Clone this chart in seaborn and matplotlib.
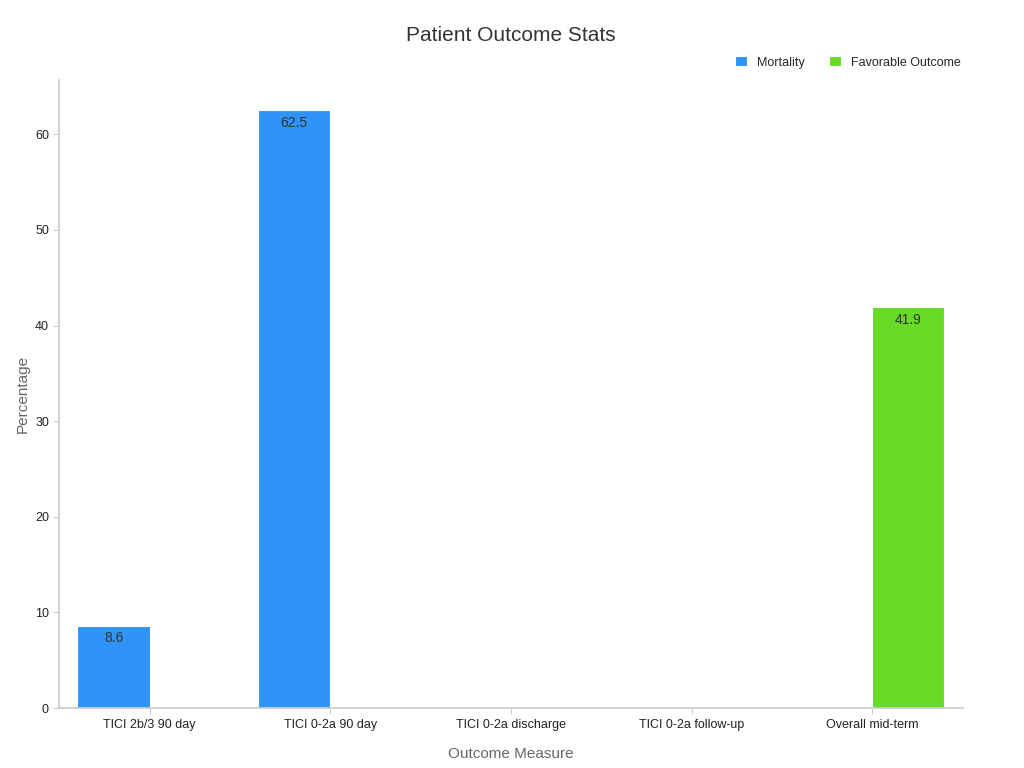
import pandas as pd
import seaborn as sns
import matplotlib.pyplot as plt

categories = ['TICI 2b/3 90 day', 'TICI 0-2a 90 day', 'TICI 0-2a discharge',
              'TICI 0-2a follow-up', 'Overall mid-term']
mortality = [8.6, 62.5, None, None, None]
favorable = [None, None, None, None, 41.9]

df = pd.DataFrame({
    'Outcome Measure': categories * 2,
    'Percentage': mortality + favorable,
    'Series': ['Mortality'] * 5 + ['Favorable Outcome'] * 5,
})

plt.style.use('seaborn-v0_8-white')
fig, ax = plt.subplots(figsize=(10.24, 7.68), dpi=100)
sns.barplot(data=df, x='Outcome Measure', y='Percentage', hue='Series',
            palette=['#2f93f8', '#66da26'], width=0.8, saturation=1,
            edgecolor='white', linewidth=0.8, ax=ax)

for container in ax.containers:
    labels = [f'{v:.1f}' if v == v and v > 0 else '' for v in container.datavalues]
    ax.bar_label(container, labels=labels, label_type='edge', padding=-14,
                 fontsize=10, color='#333333')

ax.set_ylim(0, 65.7)
ax.set_xlim(-0.5, 4.5)
ax.set_title('Patient Outcome Stats', fontsize=15, color='#333333', pad=28)
ax.set_xlabel('Outcome Measure', fontsize=11, color='#666666', labelpad=12)
ax.set_ylabel('Percentage', fontsize=11, color='#666666')
ax.tick_params(axis='both', labelsize=9, colors='#222222', length=4, color='#cccccc')
ax.tick_params(axis='both', which='both', bottom=True, left=True)
for side in ['top', 'right']:
    ax.spines[side].set_visible(False)
for side in ['left', 'bottom']:
    ax.spines[side].set_color('#cccccc')

ax.legend(loc='lower right', bbox_to_anchor=(1.01, 1.0), ncol=2, frameon=False,
          fontsize=9, handlelength=0.9, handleheight=0.9, columnspacing=2)

plt.subplots_adjust(left=0.058, right=0.94, top=0.896, bottom=0.078)
plt.savefig('out.png', dpi=100)
plt.close()
